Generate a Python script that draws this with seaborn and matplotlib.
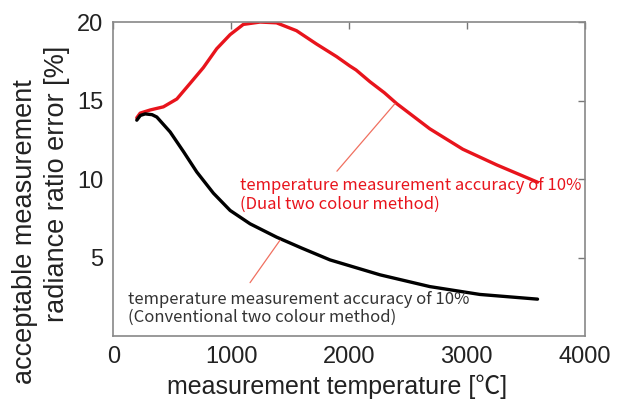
import pandas as pd
import seaborn as sns
import matplotlib.pyplot as plt

# curve values
dual_temp = [200, 229, 314, 426, 540, 653, 765, 878, 992, 1104, 1246, 1386, 1555,
             1725, 1895, 2008, 2060, 2178, 2300, 2406, 2686, 2966, 3254, 3600]
dual_err = [13.9, 14.2, 14.4, 14.6, 15.1, 16.1, 17.1, 18.3, 19.2, 19.85, 20.0, 19.95, 19.45,
            18.6, 17.8, 17.2, 16.95, 16.2, 15.5, 14.8, 13.2, 11.9, 10.9, 9.8]

conv_temp = [200, 230, 271, 330, 370, 483, 596, 709, 850, 992, 1161, 1386, 1600,
             1839, 2263, 2686, 3110, 3600]
conv_err = [13.75, 14.05, 14.15, 14.1, 13.95, 13.0, 11.75, 10.45, 9.1, 8.0, 7.15, 6.3, 5.6,
            4.85, 3.9, 3.15, 2.65, 2.35]

x_ticks = [0, 1000, 2000, 3000, 4000]
y_ticks = [5, 10, 15, 20]

label_dual = "temperature measurement accuracy of 10%\n(Dual two colour method)"
label_conv = "temperature measurement accuracy of 10%\n(Conventional two colour method)"

df = pd.concat([
    pd.DataFrame({"temp": dual_temp, "err": dual_err, "method": "dual"}),
    pd.DataFrame({"temp": conv_temp, "err": conv_err, "method": "conventional"}),
])

sns.set_style("white")
plt.rcParams['font.family'] = ['Liberation Sans', 'Noto Sans CJK JP', 'DejaVu Sans']

fig = plt.figure(figsize=(6.22, 4.01), dpi=100)
ax = fig.add_axes([0.182, 0.162, 0.758, 0.783])

sns.lineplot(data=df, x="temp", y="err", hue="method",
             palette={"dual": "#e8141c", "conventional": "black"},
             lw=2.4, legend=False, ax=ax)

ax.set_xlim(0, 4000)
ax.set_ylim(0, 20)
ax.set_xticks(x_ticks)
ax.set_yticks(y_ticks)
ax.tick_params(direction="in", length=5, width=1, color="#777777",
               top=True, right=True, labelsize=17, pad=7, labelcolor="#222222")
for s in ax.spines.values():
    s.set_color("#888888")
    s.set_linewidth(1.2)

ax.set_xlabel("measurement temperature [℃]", fontsize=18, color="#222222",
              family=['Liberation Sans', 'Noto Sans CJK JP'], labelpad=5)
ax.xaxis.label.set_x(0.475)
ax.set_ylabel("")
# the two y-label lines are not centred on each other in the original
fig.text(25 / 622, 1 - 232 / 401, "acceptable measurement", rotation=90,
         ha="center", va="center", fontsize=19.5, color="#222222")
fig.text(57 / 622, 1 - 184 / 401, "radiance ratio error [%]", rotation=90,
         ha="center", va="center", fontsize=19.5, color="#222222")

cjk = ['Noto Sans CJK JP', 'DejaVu Sans']
ax.text(1076, 8.98, label_dual, color="#e8141c", fontsize=12, family=cjk,
        va="center", linespacing=1.1)
ax.text(127, 1.75, label_conv, color="#333333", fontsize=12, family=cjk,
        va="center", linespacing=1.1)

# leader lines
ax.plot([1898, 2390], [10.5, 14.8], color="#f07060", lw=0.9)
ax.plot([1161, 1415], [3.4, 6.1], color="#f07060", lw=0.9)

fig.savefig("out.png", dpi=100)
